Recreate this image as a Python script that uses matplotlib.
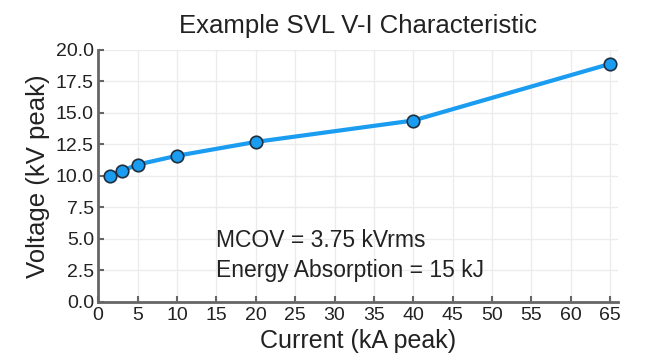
import matplotlib.pyplot as plt
import numpy as np

plt.rcParams['font.family'] = ['Liberation Sans', 'DejaVu Sans']

# Data
current_ka = [1.5, 3, 5, 10, 20, 40, 65]
voltage_kv = [10.0, 10.4, 10.9, 11.6, 12.7, 14.4, 18.9]
x_ticks = np.arange(0, 70, 5)
y_ticks = np.arange(0, 20.5, 2.5)
notes = ["MCOV = 3.75 kVrms", "Energy Absorption = 15 kJ"]

fig = plt.figure(figsize=(6.5, 3.62), dpi=100)
ax = fig.add_axes([0.151, 0.166, 0.8, 0.696])

ax.plot(current_ka, voltage_kv, "-", color="#1a9cf0", lw=3, zorder=3)
ax.plot(current_ka, voltage_kv, "o", color="#1a9cf0", ms=9,
        mec="#1f2f3f", mew=1.2, zorder=4)

ax.set_xlim(0, 66)
ax.set_ylim(0, 20)
ax.set_xticks(x_ticks)
ax.set_yticks(y_ticks)
ax.set_yticklabels(["%.1f" % v for v in y_ticks])
ax.grid(True, color="#ececec", lw=1)
ax.set_axisbelow(True)

for side in ["top", "right"]:
    ax.spines[side].set_visible(False)
for side in ["left", "bottom"]:
    ax.spines[side].set_color("#666666")
    ax.spines[side].set_linewidth(2)
ax.tick_params(direction="in", length=4, width=1.5, color="#666666",
               labelsize=14, labelcolor="#222222")
ax.tick_params(axis="y", pad=3)
ax.tick_params(axis="x", pad=4)

ax.text(15, 4.9, notes[0], fontsize=16.5, va="center", color="#222222")
ax.text(15, 2.5, notes[1], fontsize=16.5, va="center", color="#222222")

ax.set_title("Example SVL V-I Characteristic", fontsize=18.5, color="#222222", pad=12)
ax.set_xlabel("Current (kA peak)", fontsize=18, color="#222222", labelpad=3)
ax.set_ylabel("Voltage (kV peak)", fontsize=18.5, color="#222222", labelpad=4)

fig.savefig("out.png", dpi=100)
